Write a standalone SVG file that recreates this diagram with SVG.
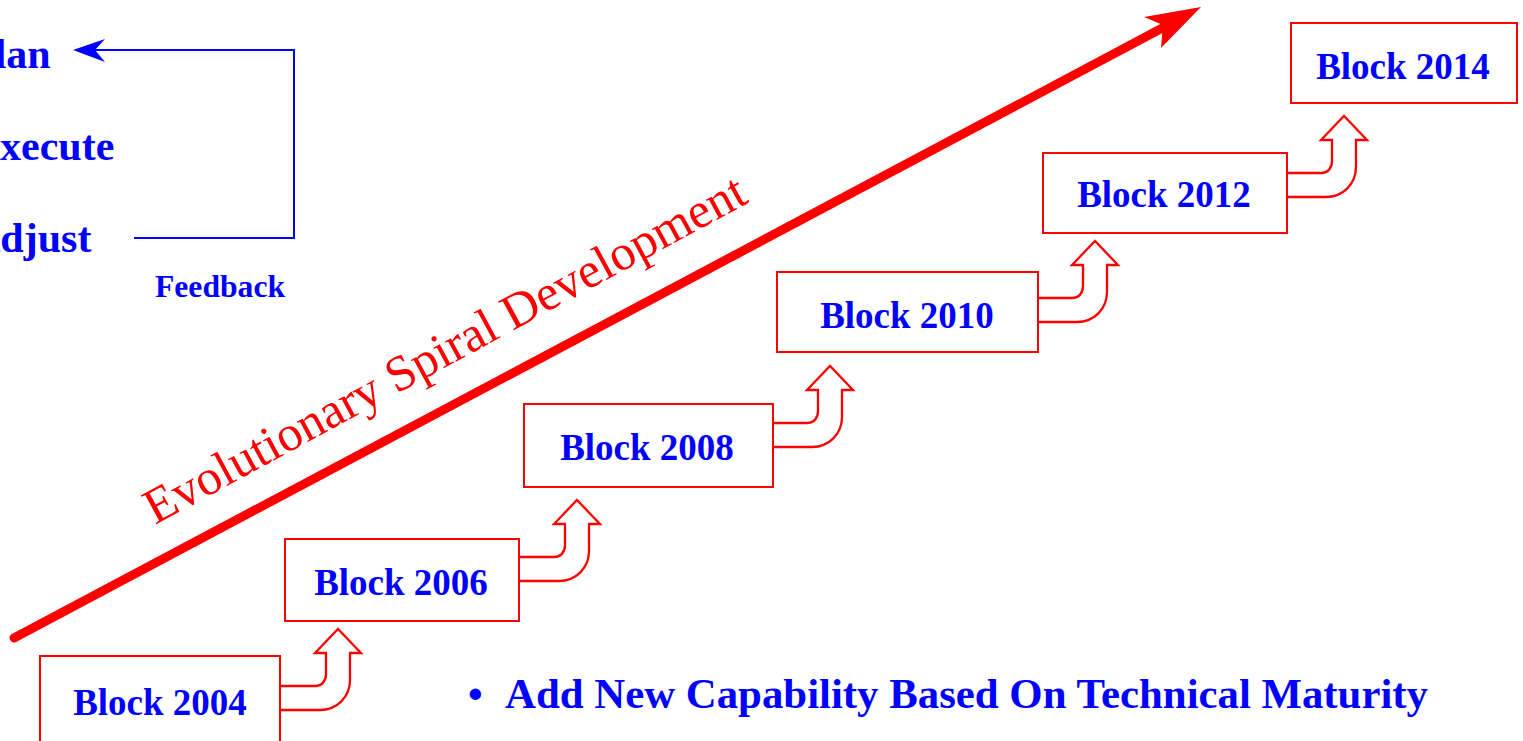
<svg xmlns="http://www.w3.org/2000/svg" width="1523" height="741" viewBox="0 0 1523 741">
<style>
.box{fill:#fff;stroke:#ff0000;stroke-width:2}
.bt{font-family:"Liberation Serif",serif;font-weight:bold;font-size:37px;fill:#0000ff;text-anchor:middle}
.bend{fill:none;stroke:#ff0000;stroke-width:2.3;stroke-linejoin:miter}
.pea{font-family:"Liberation Serif",serif;font-weight:bold;font-size:42px;fill:#0000ff}
</style>
<defs>
<path id="bent" class="bend" d="M-57,57 H-23 C-16,57 -12,52 -12,45 V24 H-23 L0,0 L23,24 H12 V51 C12,68 -1,81 -18,81 H-57"/>
</defs>
<rect width="1523" height="741" fill="#fff"/>
<g id="connectors">
<line x1="14" y1="638" x2="1168" y2="25" stroke="#ff0000" stroke-width="9" stroke-linecap="round"/>
<polygon points="1201,7 1144,17 1163,25 1161,48" fill="#ff0000"/>
<polyline points="134,238 294,238 294,50 90,50" fill="none" stroke="#0000ff" stroke-width="2"/>
<polygon points="73,50 105,39 95,50 105,62" fill="#0000ff"/>
<use href="#bent" x="338" y="629"/>
<use href="#bent" x="577" y="500"/>
<use href="#bent" x="830" y="366"/>
<use href="#bent" x="1095" y="241"/>
<use href="#bent" x="1344" y="116"/>
</g>
<g id="block2004"><rect class="box" x="40" y="656" width="240" height="100"/><text class="bt" x="160" y="715">Block 2004</text></g>
<g id="block2006"><rect class="box" x="285" y="539" width="234" height="82"/><text class="bt" x="401" y="595">Block 2006</text></g>
<g id="block2008"><rect class="box" x="524" y="404" width="249" height="83"/><text class="bt" x="647" y="460">Block 2008</text></g>
<g id="block2010"><rect class="box" x="777" y="272" width="261" height="80"/><text class="bt" x="907" y="328">Block 2010</text></g>
<g id="block2012"><rect class="box" x="1043" y="153" width="244" height="80"/><text class="bt" x="1164" y="207">Block 2012</text></g>
<g id="block2014"><rect class="box" x="1291" y="23" width="226" height="80"/><text class="bt" x="1403" y="79">Block 2014</text></g>
<g id="cycle">
<text class="pea" x="-31" y="68">Plan</text>
<text class="pea" x="-28" y="160">Execute</text>
<text class="pea" x="-30" y="252">Adjust</text>
<text x="155" y="297" font-family="Liberation Serif,serif" font-weight="bold" font-size="31" fill="#0000ff" textLength="130" lengthAdjust="spacingAndGlyphs">Feedback</text>
</g>
<text x="155" y="525" transform="rotate(-28.5 155 525)" font-family="Liberation Serif,serif" font-size="50" fill="#ff0000" textLength="677" lengthAdjust="spacingAndGlyphs">Evolutionary Spiral Development</text>
<g id="bullet">
<text x="468" y="708" class="pea">•</text>
<text x="505" y="708" class="pea" textLength="923" lengthAdjust="spacingAndGlyphs">Add New Capability Based On Technical Maturity</text>
</g>
</svg>
